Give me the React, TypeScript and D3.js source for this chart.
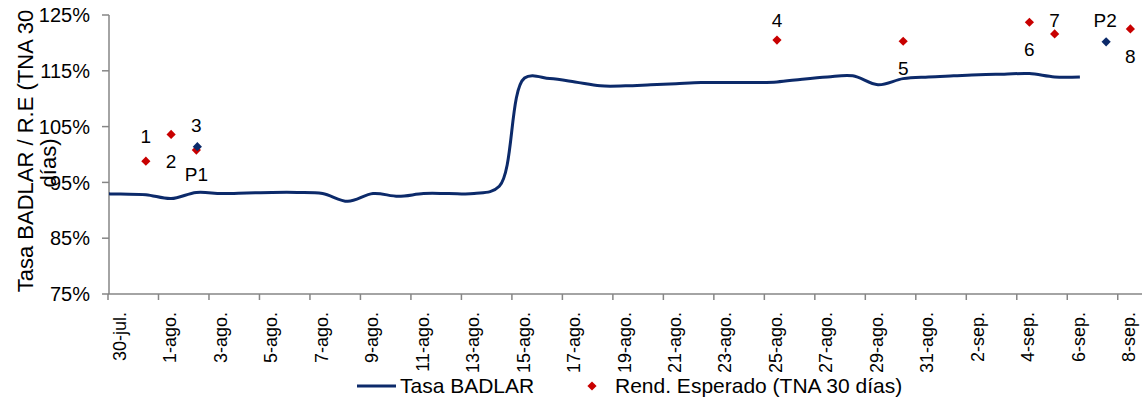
import React from "react";
import * as d3 from "d3";

const W = 1142;
const H = 400;

// x-axis tick labels (every 2 days, starting 30-jul.)
const tickLabels = [
  "30-jul.", "1-ago.", "3-ago.", "5-ago.", "7-ago.", "9-ago.", "11-ago.",
  "13-ago.", "15-ago.", "17-ago.", "19-ago.", "21-ago.", "23-ago.", "25-ago.",
  "27-ago.", "29-ago.", "31-ago.", "2-sep.", "4-sep.", "6-sep.", "8-sep.",
];

const yTicks = [75, 85, 95, 105, 115, 125];

// Tasa BADLAR, daily from 29-jul. to 6-sep. (%) — first day lies before the axis start
const badlarStartDay = -1; // days relative to 30-jul.
const badlarValues = [
  93.0, 92.9, 92.8, 92.1, 93.2, 93.0, 93.1, 93.2, 93.2, 93.0,
  91.6, 93.0, 92.5, 93.0, 93.0, 93.0, 94.3, 113.7, 113.6, 113.0,
  112.3, 112.3, 112.5, 112.7, 112.9, 112.9, 112.9, 113.0, 113.5, 113.9,
  114.1, 112.5, 113.6, 113.9, 114.1, 114.3, 114.4, 114.5, 113.9, 113.9,
];

// Rend. Esperado (TNA 30 días): day index since 30-jul., value %
const rendDay = [1, 2, 3, 26, 31, 36, 37, 40];
const rendValue = [98.8, 103.6, 100.8, 120.5, 120.3, 123.7, 121.6, 122.5];
const rendLabels = ["1", "2", "3", "4", "5", "6", "7", "8"];
const rendLabelPos = ["above", "below", "above", "above", "below", "below", "above", "below"];

// P points
const pDay = [3, 39];
const pValue = [101.4, 120.2];
const pLabels = ["P1", "P2"];
const pLabelPos = ["below", "above"];

const NAVY = "#0c2a6a";
const RED = "#c80000";
const AXIS = "#868686";
const FONT = "'Liberation Sans', Arial, sans-serif";

export default function App() {
  // each day occupies one category slot; points sit at slot centres
  const x = d3.scaleLinear().domain([0, 41]).range([108, 1143]);
  const cx = (d: number) => x(d + 0.5);
  const y = d3.scaleLinear().domain([75, 125]).range([294, 15]);

  const line = d3
    .line<number>()
    .x((_, i) => cx(badlarStartDay + i))
    .y((d) => y(d))
    .curve(d3.curveCatmullRom.alpha(0.5));

  const diamond = (px: number, py: number, r: number) =>
    `M${px},${py - r}L${px + r},${py}L${px},${py + r}L${px - r},${py}Z`;

  const labelY = (v: number, pos: string) =>
    pos === "above" ? Math.max(y(v) - 18, 27) : y(v) + 34;

  return (
    <svg
      width={W}
      height={H}
      style={{ position: "absolute", left: 0, top: 0, background: "#fff" }}
      fontFamily={FONT}
    >
      <defs>
        <clipPath id="plotClip">
          <rect x={109} y={0} width={W - 109} height={294} />
        </clipPath>
      </defs>
      <rect width={W} height={H} fill="#fff" />
      {/* Y axis */}
      <line x1={109} x2={109} y1={15} y2={294} stroke={AXIS} strokeWidth={1.5} />
      {yTicks.map((t) => (
        <g key={t}>
          <line x1={102} x2={109} y1={y(t)} y2={y(t)} stroke={AXIS} strokeWidth={1.5} />
          <text x={90} y={y(t)} dy="0.36em" textAnchor="end" fontSize={20} fill="#000">
            {t}%
          </text>
        </g>
      ))}
      {/* X axis */}
      <line x1={108} x2={W} y1={294} y2={294} stroke={AXIS} strokeWidth={1.5} />
      {tickLabels.map((lab, i) => {
        const tx = x(i * 2);
        return (
          <g key={lab}>
            <line x1={tx} x2={tx} y1={294} y2={300} stroke={AXIS} strokeWidth={1.5} />
            <text
              transform={`translate(${cx(i * 2) + 5},312) rotate(-90)`}
              textAnchor="end"
              fontSize={18}
              fill="#000"
            >
              {lab}
            </text>
          </g>
        );
      })}
      {/* Y axis title */}
      <text transform="translate(33,151) rotate(-90)" textAnchor="middle" fontSize={22} fill="#000">
        Tasa BADLAR / R.E (TNA 30
      </text>
      <text transform="translate(56,163) rotate(-90)" textAnchor="middle" fontSize={22} fill="#000">
        días)
      </text>
      {/* BADLAR line */}
      <path
        d={line(badlarValues) || ""}
        fill="none"
        stroke={NAVY}
        strokeWidth={3}
        clipPath="url(#plotClip)"
      />
      {/* Rend. Esperado points */}
      {rendDay.map((d, i) => (
        <g key={"r" + i}>
          <path d={diamond(cx(d), y(rendValue[i]), 4.6)} fill={RED} />
          <text
            x={cx(d)}
            y={labelY(rendValue[i], rendLabelPos[i])}
            textAnchor="middle"
            fontSize={19}
            fill="#000"
          >
            {rendLabels[i]}
          </text>
        </g>
      ))}
      {/* P points */}
      {pDay.map((d, i) => (
        <g key={"p" + i}>
          <path d={diamond(cx(d) + 1, y(pValue[i]), 4.6)} fill={NAVY} />
          <text
            x={cx(d)}
            y={labelY(pValue[i], pLabelPos[i])}
            textAnchor="middle"
            fontSize={19}
            fill="#000"
          >
            {pLabels[i]}
          </text>
        </g>
      ))}
      {/* Legend */}
      <line x1={357} x2={396} y1={386} y2={386} stroke={NAVY} strokeWidth={3} />
      <text x={400} y={393} fontSize={21} fill="#000">
        Tasa BADLAR
      </text>
      <path d={diamond(592, 386, 4.6)} fill={RED} />
      <text x={615} y={393} fontSize={21} fill="#000">
        Rend. Esperado (TNA 30 días)
      </text>
    </svg>
  );
}
